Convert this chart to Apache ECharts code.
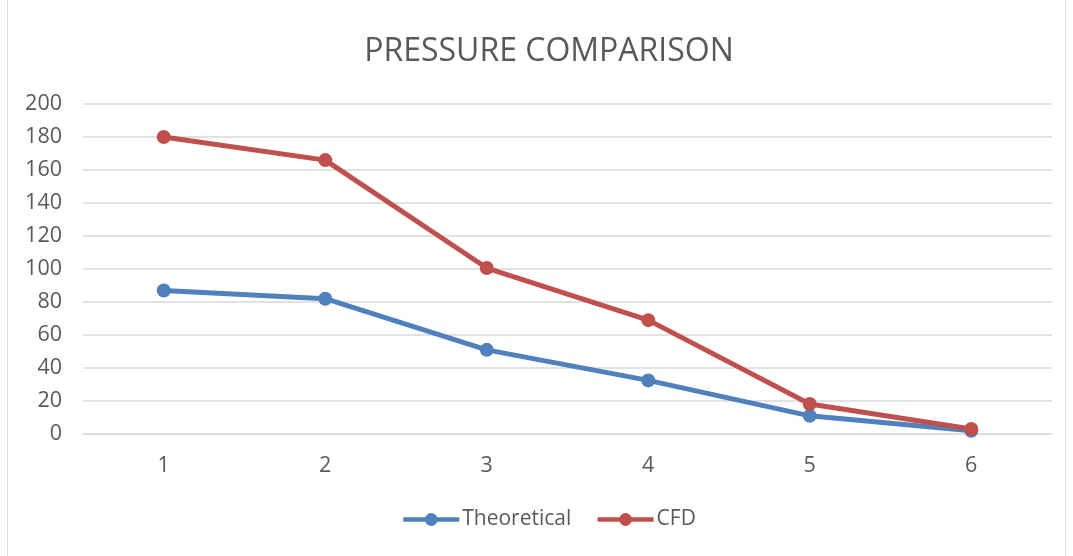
<!DOCTYPE html>
<html><head><meta charset="utf-8">
<script src="https://cdn.jsdelivr.net/npm/echarts@6/dist/echarts.min.js"></script>
<style>html,body{margin:0;padding:0;background:#fff}#c{width:1073px;height:556px}</style>
</head><body><div id="c"></div>
<script>
const categories = ['1','2','3','4','5','6'];
const theoretical = [87, 82, 51, 32.5, 11, 2];
const cfd = [180, 166, 100.6, 69, 18.2, 3];
const yTicks = {min: 0, max: 200, interval: 20};

const chart = echarts.init(document.getElementById('c'));
const font = 'Open Sans';
chart.setOption({
  backgroundColor: '#fff',
  animation: false,
  graphic: [{type:'rect', shape:{x:7.5,y:-2,width:1058,height:570}, style:{fill:'none', stroke:'#d9d9d9', lineWidth:1}}],
  title: {text:'PRESSURE COMPARISON', left: 544, top: 31, textAlign:'center',
    textStyle:{fontFamily:font, fontSize:32, fontWeight:'normal', color:'#595959'}},
  grid: {left: 83, right: 21, top: 104, bottom: 122, containLabel: false},
  legend: {bottom: 21, left: 396, itemWidth: 56, itemHeight: 16, itemGap: 24,
    lineStyle:{width:4.5},
    textStyle:{fontFamily:font, fontSize:21, color:'#595959', padding:[0,0,0,-2]}, data:['Theoretical','CFD']},
  xAxis: {type:'category', data: categories, boundaryGap: true,
    axisLine:{lineStyle:{color:'#d9d9d9', width:1}}, axisTick:{show:false},
    axisLabel:{fontFamily:font, fontSize:21.5, color:'#595959', margin:21}},
  yAxis: {type:'value', min: yTicks.min, max: yTicks.max, interval: yTicks.interval,
    axisLine:{show:false}, axisTick:{show:false},
    splitLine:{lineStyle:{color:'#d9d9d9', width:1.5}},
    axisLabel:{fontFamily:font, fontSize:21.5, color:'#595959', margin:21}},
  series: [
    {name:'Theoretical', type:'line', data: theoretical, symbol:'circle', symbolSize:14,
     lineStyle:{color:'#4F81BD', width:5}, itemStyle:{color:'#4F81BD'}},
    {name:'CFD', type:'line', data: cfd, symbol:'circle', symbolSize:14,
     lineStyle:{color:'#C0504D', width:5}, itemStyle:{color:'#C0504D'}}
  ]
});
</script></body></html>
